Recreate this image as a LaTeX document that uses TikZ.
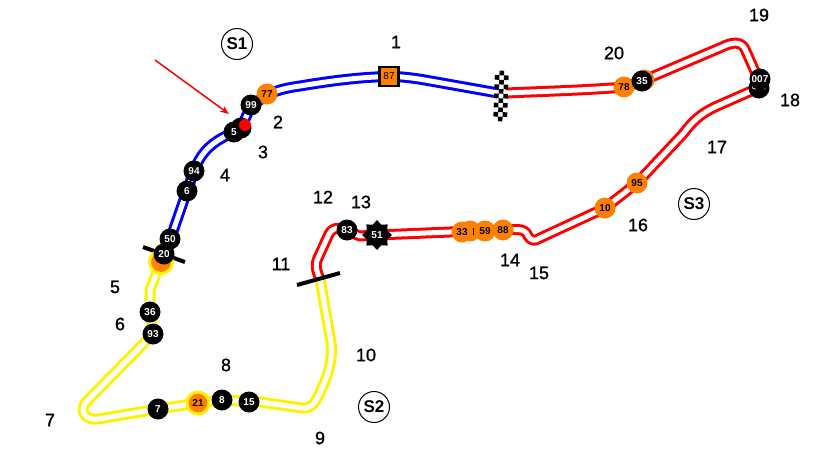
\documentclass[tikz,border=0pt]{standalone}
\usepackage{fontspec}
\setmainfont{Liberation Sans}
\newfontfamily\labfont[FakeBold=1.2]{Liberation Sans}
\usetikzlibrary{shapes.geometric,arrows.meta}
\definecolor{orng}{HTML}{FF8000}
\tikzset{
  track/.style={draw=#1,double=white,double distance=5pt,line width=3pt,line join=round},
  car/.style={circle,fill=black,text=white,minimum size=21pt,inner sep=0pt,font=\fontsize{10}{10}\selectfont\bfseries},
  ocar/.style={circle,fill=orng,text=black,minimum size=21pt,inner sep=0pt,font=\fontsize{10}{10}\selectfont\bfseries},
  lab/.style={font=\fontsize{18}{18}\selectfont\labfont,text=black,inner sep=0pt},
  sector/.style={circle,draw=black,line width=1pt,minimum size=31pt,inner sep=0pt,font=\fontsize{17}{18}\selectfont\bfseries},
  barline/.style={line width=4pt,black}
}
\begin{document}
\begin{tikzpicture}[x=1pt,y=-1pt]
\useasboundingbox (0,0) rectangle (814,453);
% sectors of the track
\draw[track=blue] (498,93) -- (425,80) .. controls (410,77.5) and (400,76.5) .. (389,76.5) .. controls (360,77) and (330,81) .. (300,86) .. controls (285,88) and (275,91) .. (267,95) -- (251,106) -- (241,128) -- (222,138) .. controls (208,146) and (200,155) .. (194,171) -- (187,191) -- (170,240);
\draw[track=red] (506,93) .. controls (540,91.5) and (590,90) .. (625,87) -- (642,81) -- (722,47) .. controls (732,42) and (741,41) .. (745,49) -- (761,85);
\draw[track=red] (758,88) -- (715,107) .. controls (700,114) and (692,122) .. (683,134) -- (637,183) -- (605,208) -- (540,238) .. controls (535,241.5) and (531,241) .. (528,236) .. controls (526,231) and (523,229.5) .. (516,229.5) -- (503,230) -- (462,231.5) -- (377,235) -- (360,236) -- (347,231) .. controls (338,227) and (333,227) .. (329,234) -- (318,258) .. controls (315,265) and (316,270) .. (320,279);
\draw[track=yellow] (320,279) -- (331,342) .. controls (333,360) and (328,375) .. (322,388) .. controls (316,402) and (312,409) .. (302,408) -- (260,402) -- (222,400) -- (198,403) -- (158,409) -- (98,419) .. controls (84,421) and (78,409) .. (88,400) -- (153,334) -- (150,312) -- (150,290) -- (161,262);
% start/finish checks
\begin{scope}[shift={(501,96)},rotate=-2]
\foreach \r in {-5,...,5}{
  \pgfmathsetmacro{\ya}{\r*4.6}
  \pgfmathtruncatemacro{\odd}{mod(abs(\r),2)}
  \ifnum\odd=1
    \fill[black] (-2.3,\ya-2.3) rectangle (2.3,\ya+2.3);
  \else
    \fill[black] (-6.9,\ya-2.3) rectangle (-2.3,\ya+2.3);
    \fill[black] (2.3,\ya-2.3) rectangle (6.9,\ya+2.3);
  \fi
}
\end{scope}
% sector lines
\coordinate (ba) at (297,285); \coordinate (bb) at (340,273);
\coordinate (bc) at (143,247); \coordinate (bd) at (185,262);
\draw[barline] (ba) -- (bb);
\draw[barline] (bc) -- (bd);
% arrow
\coordinate (arA) at (155,60); \coordinate (arB) at (229,114);
\draw[red,line width=1.5pt,-{Stealth[length=9pt,width=7pt]}] (arA) -- (arB);
% cars
\node[ocar] (n77) at (267,94) {77};
\node[car] (n99) at (251,105) {99};
\node[car] (nb5) at (241,128) {};
\node[car] (n5) at (234,132) {5};
\node[circle,fill=red,minimum size=12pt,inner sep=0pt] (nr) at (245,125) {};
\node[car] (n94) at (194,171) {94};
\node[car] (n6) at (187,191) {6};
\node[ocar,draw=yellow,line width=3pt,minimum size=23pt] (no) at (161,262) {};
\node[car] (n50) at (170,239) {50};
\node[car] (n20) at (164,254) {20};
\node[car] (n36) at (150,312) {36};
\node[car] (n93) at (153,334) {93};
\node[car] (n7) at (158,409) {7};
\node[ocar,draw=yellow,line width=3pt,minimum size=22pt] (n21) at (198,403) {21};
\node[car] (n8) at (222,400) {8};
\node[car] (n15) at (249,402) {15};
\node[car] (n83) at (347,230) {83};
\node[star,star points=8,star point ratio=1.35,fill=black,text=white,minimum size=30pt,inner sep=0pt,font=\fontsize{10}{10}\selectfont\bfseries] (n51) at (377,235) {51};
\node[ocar] (nh) at (470,231) {};
\node[ocar] (n33) at (462,232) {33};
\node[ocar] (n59) at (485,231) {59};
\node[ocar] (n88) at (503,230) {88};
\fill[black] (472.9,228) rectangle (474.1,235);
\node[ocar] (n10) at (605,208) {10};
\node[ocar] (n95) at (637,183) {95};
\node[ocar] (n78) at (624,87) {78};
\node[ocar] (nb35) at (644,80) {};
\node[car] (n35) at (642,81) {35};
\node[car] (nb7) at (759,88) {};
\draw[white,line width=0.8pt] (752.5,86.5) -- (753,88.5) -- (756,89);
\fill[white] (765,89) circle (0.7);
\node[car] (n007) at (760,79) {007};
\node[draw=black,fill=orng,line width=2.5pt,minimum size=19pt,inner sep=0pt,font=\fontsize{10}{11}\selectfont] (n87) at (389,76.5) {87};
% sector names
\node[sector] (s1) at (237,44) {S1};
\node[sector] (s2) at (374,407) {S2};
\node[sector] (s3) at (694,204) {S3};
% corner numbers
\node[lab] (c1) at (396,42) {1};
\node[lab] (c2) at (278,122) {2};
\node[lab] (c3) at (263,152) {3};
\node[lab] (c4) at (225,175) {4};
\node[lab] (c5) at (115,287) {5};
\node[lab] (c6) at (120,324) {6};
\node[lab] (c7) at (50,420) {7};
\node[lab] (c8) at (226,365) {8};
\node[lab] (c9) at (320,438) {9};
\node[lab] (c10) at (366,355) {10};
\node[lab] (c11) at (281,264) {11};
\node[lab] (c12) at (323,197) {12};
\node[lab] (c13) at (361,202) {13};
\node[lab] (c14) at (510,260) {14};
\node[lab] (c15) at (539,273) {15};
\node[lab] (c16) at (638,225) {16};
\node[lab] (c17) at (717,147) {17};
\node[lab] (c18) at (790,100) {18};
\node[lab] (c19) at (759,15) {19};
\node[lab] (c20) at (614,53) {20};
\end{tikzpicture}
\end{document}
